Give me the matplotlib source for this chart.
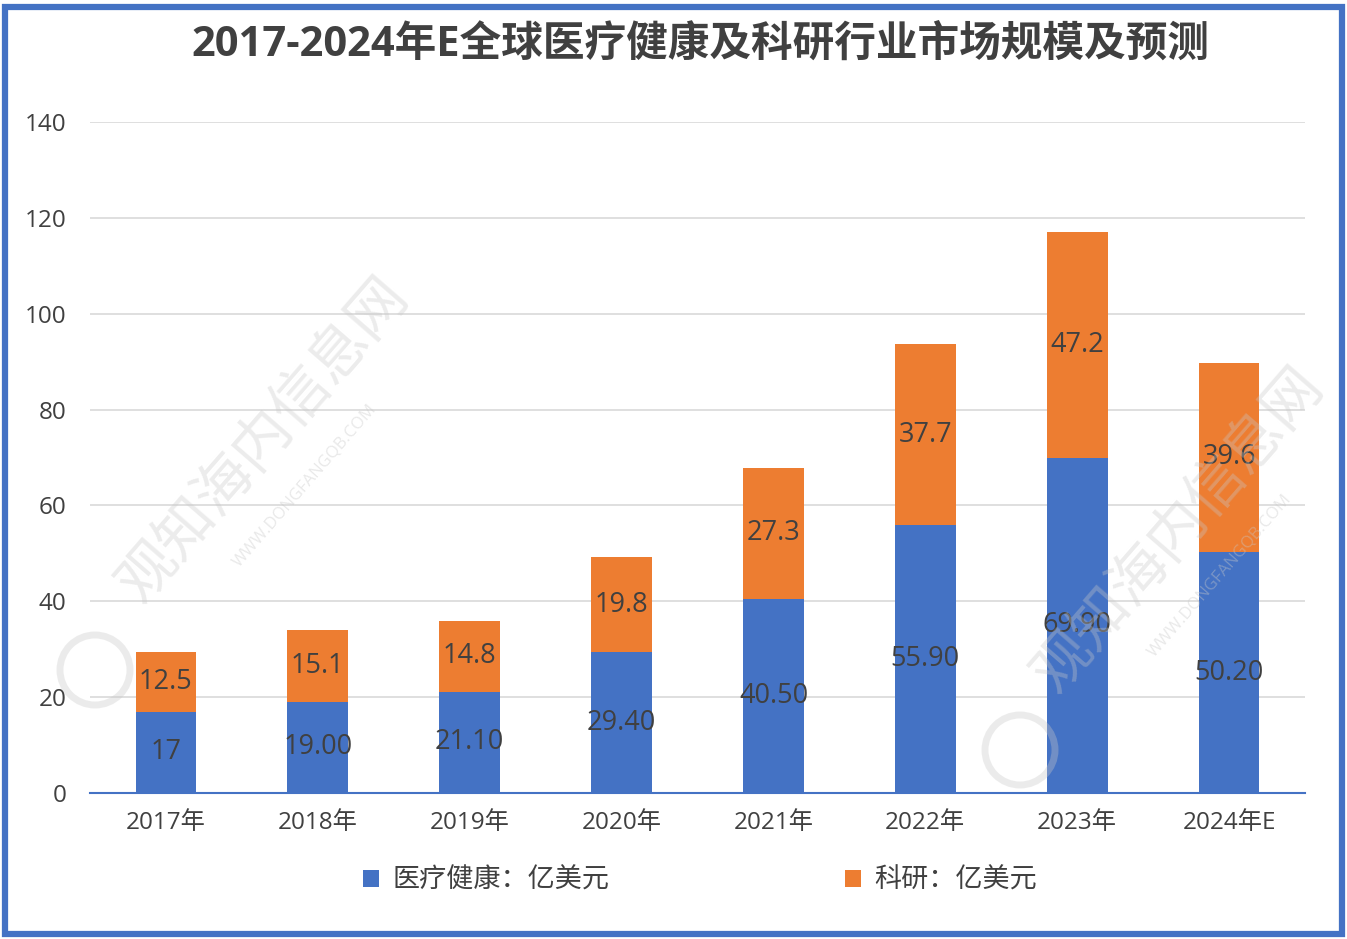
import matplotlib
matplotlib.use("Agg")
import matplotlib.pyplot as plt
from matplotlib.patches import Rectangle, Ellipse
import numpy as np

categories = ["2017年", "2018年", "2019年", "2020年", "2021年", "2022年", "2023年", "2024年E"]
medical = [17, 19.00, 21.10, 29.40, 40.50, 55.90, 69.90, 50.20]
research = [12.5, 15.1, 14.8, 19.8, 27.3, 37.7, 47.2, 39.6]
medical_labels = ["17", "19.00", "21.10", "29.40", "40.50", "55.90", "69.90", "50.20"]
research_labels = ["12.5", "15.1", "14.8", "19.8", "27.3", "37.7", "47.2", "39.6"]
series_names = ["医疗健康：亿美元", "科研：亿美元"]
title = "2017-2024年E全球医疗健康及科研行业市场规模及预测"

BLUE = "#4472C4"
ORANGE = "#ED7D31"
TXT = "#404040"
FONT = ["Open Sans", "Noto Sans CJK SC", "DejaVu Sans"]
plt.rcParams["font.family"] = FONT

fig = plt.figure(figsize=(13.47, 9.39), dpi=100)
ax = fig.add_axes([90/1347, 1-793/939, (1305-90)/1347, (793-122)/939])

x = np.arange(len(categories))
w = 0.4
b1 = ax.bar(x, medical, w, color=BLUE, label=series_names[0], zorder=3)
b2 = ax.bar(x, research, w, bottom=medical, color=ORANGE, label=series_names[1], zorder=3)

for i in range(len(categories)):
    ax.text(x[i], medical[i]/2, medical_labels[i], ha="center", va="center",
            fontsize=19.5, color=TXT, zorder=5)
    ax.text(x[i], medical[i] + research[i]/2, research_labels[i], ha="center", va="center",
            fontsize=19.5, color=TXT, zorder=5)

ax.set_xlim(-0.5, len(categories) - 0.5)
ax.set_ylim(0, 140)
ax.set_yticks(range(0, 141, 20))
ax.set_xticks(x)
ax.set_xticklabels(categories)
ax.tick_params(axis="both", length=0, labelsize=17.5, labelcolor=TXT)
ax.tick_params(axis="y", pad=17)
ax.tick_params(axis="x", pad=13)
ax.yaxis.grid(True, color="#D9D9D9", linewidth=1.2, zorder=0)
for s in ["top", "right", "left"]:
    ax.spines[s].set_visible(False)
ax.spines["bottom"].set_color(BLUE)
ax.spines["bottom"].set_linewidth(1.5)
ax.spines["bottom"].set_zorder(4)

fig.text(700/1347, 1-45/939, title, ha="center", va="center", fontsize=30,
         fontweight="bold", color=TXT)

leg = fig.legend(handles=[b1, b2], loc="center", bbox_to_anchor=(700/1347, 1-881/939),
                 ncol=2, frameon=False, fontsize=19.5, handlelength=0.6, handleheight=0.6,
                 handletextpad=0.5, columnspacing=8.7)
for t in leg.get_texts():
    t.set_color(TXT)

# watermarks (faint, semi-transparent)
wm_color = "#C8C8C8"
for (cx, cy, sx, sy, lx, ly) in [(265, 440, 305, 485, 95, 670), (1180, 530, 1220, 575, 1020, 750)]:
    fig.text(cx/1347, 1-cy/939, "观知海内信息网", rotation=49, ha="center", va="center",
             fontsize=42, color=wm_color, alpha=0.35, zorder=10)
    fig.text(sx/1347, 1-sy/939, "WWW.DONGFANGQB.COM", rotation=49, ha="center", va="center",
             fontsize=12, color=wm_color, alpha=0.4, zorder=10)
    fig.patches.append(Ellipse((lx/1347, 1-ly/939), 70/1347, 70/939, transform=fig.transFigure,
                               fill=False, ec=wm_color, lw=5, alpha=0.35, zorder=10))

fig.patches.append(Rectangle((5/1347, 5/939), 1337/1347, 927/939, transform=fig.transFigure,
                             fill=False, ec=BLUE, lw=4.5))

fig.savefig("out.png", dpi=100)
